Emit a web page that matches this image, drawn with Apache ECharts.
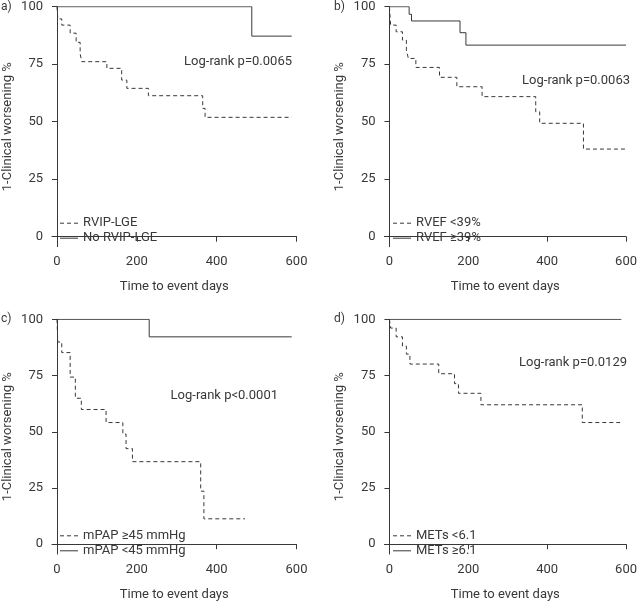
<!DOCTYPE html>
<html>
<head>
<meta charset="utf-8">
<script src="https://cdn.jsdelivr.net/npm/echarts@6.0.0/dist/echarts.min.js"></script>
<style>
  html, body { margin: 0; padding: 0; background: #ffffff; }
  #chart { width: 640px; height: 602px; }
</style>
</head>
<body>
<div id="chart"></div>
<script>
// Kaplan-Meier curves (days, % free of clinical worsening)
const xTicks = [0, 200, 400, 600];
const yTicks = [0, 25, 50, 75, 100];

// a) RVIP-LGE
const aDashT = [0, 2, 12, 33, 48, 58, 62, 125, 162, 175, 229, 365, 371, 588];
const aDashV = [100, 94.7, 92, 88.5, 84.5, 79.5, 76.1, 73.2, 68.1, 64.5, 61.3, 55.8, 51.9, 51.9];
const aSolidT = [0, 488, 588];
const aSolidV = [100, 87.2, 87.2];

// b) RVEF
const bDashT = [0, 3, 17, 33, 43, 48, 67, 127, 171, 235, 371, 381, 492, 600];
const bDashV = [100, 92, 89.1, 85.5, 81.2, 77.5, 73.6, 69.3, 65.2, 60.9, 54.3, 49.3, 38.1, 38.1];
const bSolidT = [0, 50, 56, 179, 194, 600];
const bSolidV = [100, 96.7, 93.8, 88.7, 83.3, 83.3];

// c) mPAP
const cDashT = [0, 2, 12, 33, 46, 61, 123, 165, 173, 189, 360, 368, 471];
const cDashV = [100, 89.9, 85.2, 74.3, 64.9, 59.9, 54.1, 49, 42.5, 36.7, 23.6, 11.3, 11.3];
const cSolidT = [0, 231, 588];
const cSolidV = [100, 92.2, 92.2];

// d) METs
const dDashT = [0, 3, 17, 33, 43, 52, 125, 165, 175, 232, 489, 585];
const dDashV = [100, 96.1, 92.2, 88.1, 84.5, 80.1, 75.8, 71.4, 67.1, 62, 54.1, 54.1];
const dSolidT = [0, 588];
const dSolidV = [100, 100];

const panels = [
  { tag: 'a)', dash: 'RVIP-LGE', solid: 'No RVIP-LGE', dT: aDashT, dV: aDashV, sT: aSolidT, sV: aSolidV,
    p: 'Log-rank p=0.0065', left: 51.5, top: 6.7, pX: 292, pY: 62 },
  { tag: 'b)', dash: 'RVEF <39%', solid: 'RVEF \u226539%', dT: bDashT, dV: bDashV, sT: bSolidT, sV: bSolidV,
    p: 'Log-rank p=0.0063', left: 384.5, top: 6.7, pX: 630, pY: 81 },
  { tag: 'c)', dash: 'mPAP \u226545 mmHg', solid: 'mPAP <45 mmHg', dT: cDashT, dV: cDashV, sT: cSolidT, sV: cSolidV,
    p: 'Log-rank p<0.0001', left: 51.5, top: 319.3, pX: 278, pY: 396 },
  { tag: 'd)', dash: 'METs <6.1', solid: 'METs \u22656.1', dT: dDashT, dV: dDashV, sT: dSolidT, sV: dSolidV,
    p: 'Log-rank p=0.0129', left: 384.5, top: 319.3, pX: 627, pY: 363 },
];

const ink = '#383838';
const font = 'Roboto';
const fs = 13;
const zip = (t, v) => t.map((x, i) => [x, v[i]]);

const grid = [], xAxis = [], yAxis = [], series = [], legend = [], graphic = [];

panels.forEach((p, i) => {
  // x=0 sits 5px right of the y axis, y=0 sits 10px above the x axis
  const plotW = 240, plotH = 230;
  grid.push({ left: p.left, top: p.top, width: plotW + 5, height: plotH + 10 });

  xAxis.push({
    gridIndex: i, type: 'value', min: -12.5, max: 600,
    name: 'Time to event days', nameLocation: 'middle', nameGap: 34,
    nameTextStyle: { color: ink, fontFamily: font, fontSize: fs },
    axisLine: { lineStyle: { color: ink, width: 1 } },
    axisTick: { customValues: xTicks, length: 5, lineStyle: { color: ink } },
    axisLabel: { customValues: xTicks, color: ink, fontFamily: font, fontSize: fs, margin: 9 },
    splitLine: { show: false },
  });

  yAxis.push({
    gridIndex: i, type: 'value', min: -100 * 10 / plotH, max: 100,
    name: '1-Clinical worsening %', nameLocation: 'middle', nameGap: 38,
    nameTextStyle: { color: ink, fontFamily: font, fontSize: fs },
    axisLine: { show: true, lineStyle: { color: ink, width: 1 } },
    axisTick: { show: true, customValues: yTicks, length: 5, lineStyle: { color: ink } },
    axisLabel: { customValues: yTicks, color: ink, fontFamily: font, fontSize: fs, margin: 9 },
    splitLine: { show: false },
  });

  series.push({
    name: p.dash, type: 'line', step: 'end', xAxisIndex: i, yAxisIndex: i,
    data: zip(p.dT, p.dV), symbol: 'none',
    lineStyle: { color: ink, width: 1, type: [4, 3] }, itemStyle: { color: ink },
  });
  series.push({
    name: p.solid, type: 'line', step: 'end', xAxisIndex: i, yAxisIndex: i,
    data: zip(p.sT, p.sV), symbol: 'none',
    lineStyle: { color: ink, width: 1 }, itemStyle: { color: ink },
  });

  legend.push({
    data: [p.dash, p.solid], orient: 'vertical',
    left: p.left + 8, top: p.top + 210, itemGap: 2, itemWidth: 18, itemHeight: 14,
    selectedMode: false, padding: 0,
    itemStyle: { opacity: 0 },
    lineStyle: { width: 1 },
    textStyle: { color: ink, fontFamily: font, fontSize: fs },
  });

  graphic.push({
    type: 'text', left: p.left === 51.5 ? 1 : 334, top: p.top - 6,
    style: { text: p.tag, fill: ink, font: '12px ' + font },
  });
  graphic.push({
    type: 'text', x: p.pX, y: p.pY,
    style: { text: p.p, fill: ink, font: fs + 'px ' + font, textAlign: 'right', textVerticalAlign: 'middle' },
  });
});

const myChart = echarts.init(document.getElementById('chart'));
myChart.setOption({
  animation: false,
  grid, xAxis, yAxis, series, legend, graphic,
});
</script>
</body>
</html>
